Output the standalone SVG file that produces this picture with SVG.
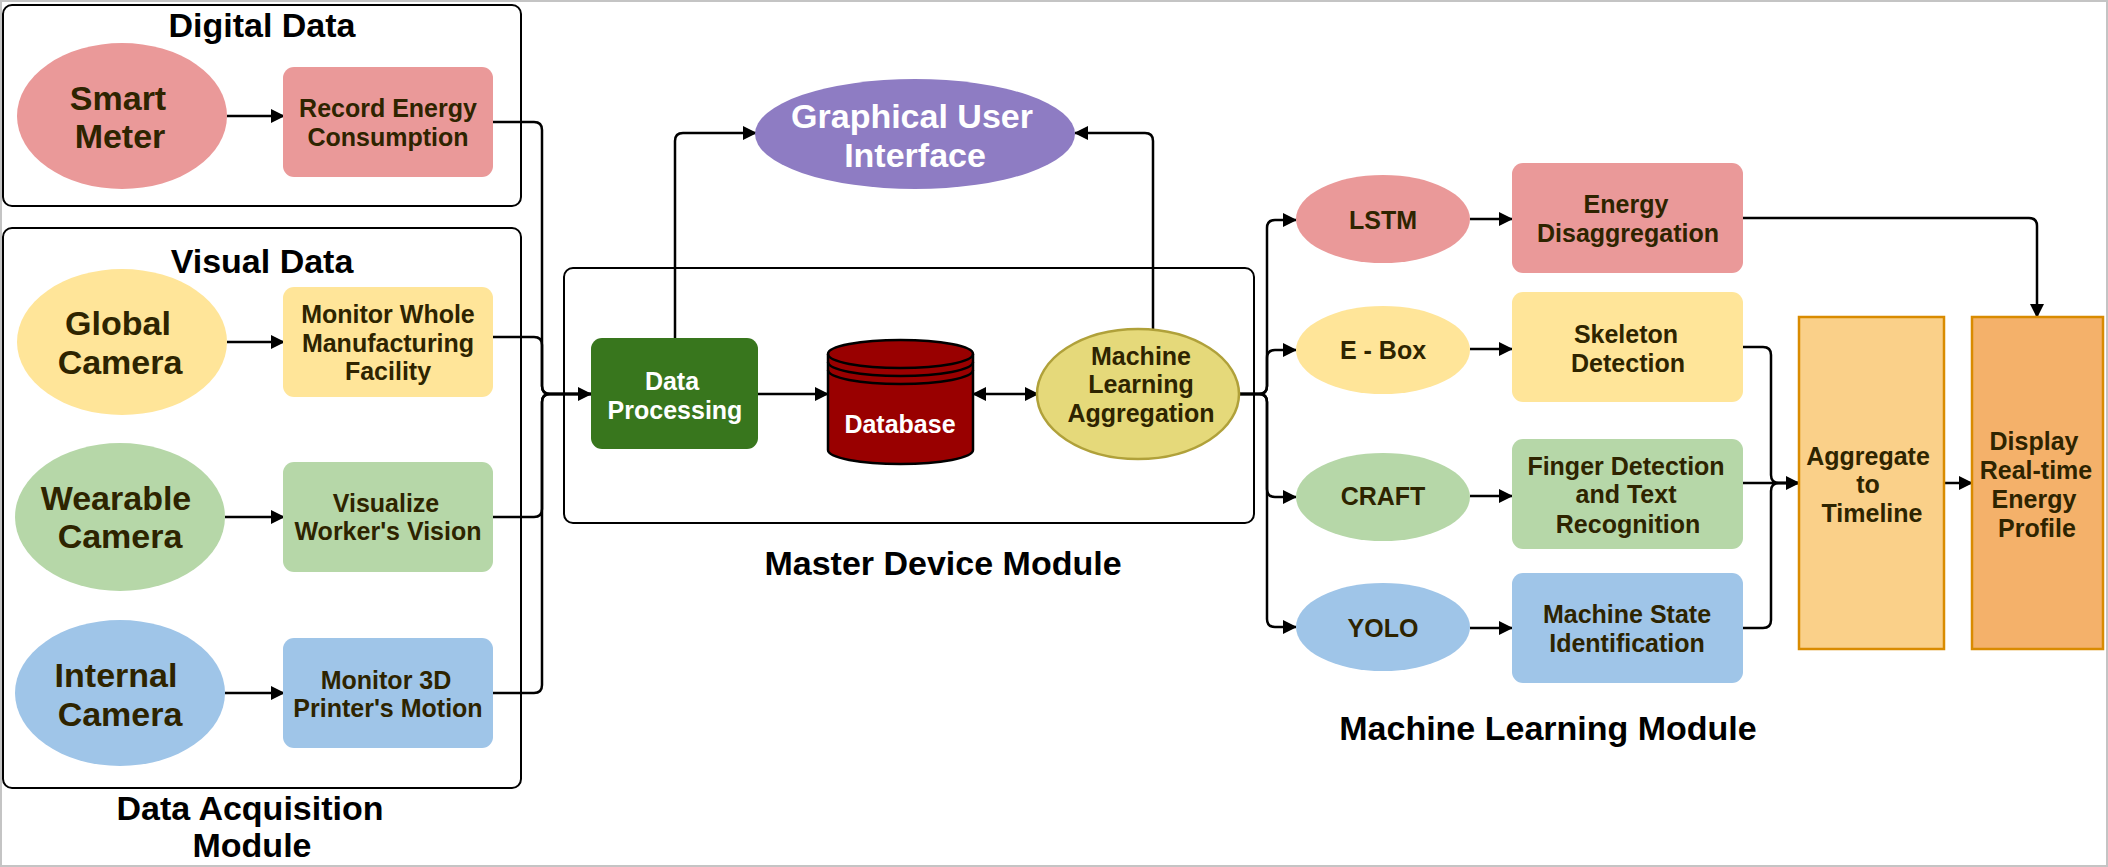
<svg xmlns="http://www.w3.org/2000/svg" width="2108" height="867" viewBox="0 0 2108 867">
<style>
text{font-family:"Liberation Sans",Arial,sans-serif;font-weight:bold;text-anchor:middle}
.t{font-size:34px;fill:#000}
.e{font-size:34px;fill:#2e2400}
.r{font-size:25px;fill:#2e2400}
.w{font-size:25px;fill:#fff}
.g{font-size:34px;fill:#fff}
.grp{fill:none;stroke:#000;stroke-width:2}
.c{fill:none;stroke:#000;stroke-width:2.5}
.pink{fill:#EA9999}.yel{fill:#FFE599}.grn{fill:#B6D7A8}.blu{fill:#9FC5E8}
</style>
<defs>
<marker id="a" viewBox="0 0 14 14" refX="13" refY="7" markerWidth="14" markerHeight="14" markerUnits="userSpaceOnUse" orient="auto-start-reverse">
<path d="M0,0 L14,7 L0,14 Z" fill="#000"/>
</marker>
</defs>
<rect x="1" y="1" width="2106" height="865" fill="#fff" stroke="#c4c4c4" stroke-width="2"/>

<g id="group-digital">
<rect class="grp" x="3" y="5" width="518" height="201" rx="9"/>
<text class="t" x="262" y="37">Digital Data</text>
</g>
<g id="group-visual">
<rect class="grp" x="3" y="228" width="518" height="560" rx="9"/>
<text class="t" x="262" y="273">Visual Data</text>
</g>
<g id="label-acq">
<text class="t" x="250" y="820">Data Acquisition</text>
<text class="t" x="252" y="857">Module</text>
</g>
<g id="group-master">
<rect class="grp" x="564" y="268" width="690" height="255" rx="9"/>
<text class="t" x="943" y="575">Master Device Module</text>
</g>
<g id="label-ml">
<text class="t" x="1548" y="740">Machine Learning Module</text>
</g>

<g id="connectors">
<path class="c" d="M227,116 H284" marker-end="url(#a)"/>
<path class="c" d="M227,342 H284" marker-end="url(#a)"/>
<path class="c" d="M225,517 H284" marker-end="url(#a)"/>
<path class="c" d="M225,693 H284" marker-end="url(#a)"/>
<path class="c" d="M493,122 H534 Q542,122 542,130 V386 Q542,394 550,394 H591" marker-end="url(#a)"/>
<path class="c" d="M493,337 H534 Q542,337 542,345 V386 Q542,394 550,394 H591"/>
<path class="c" d="M493,517 H534 Q542,517 542,509 V402 Q542,394 550,394 H591"/>
<path class="c" d="M493,693 H534 Q542,693 542,685 V402 Q542,394 550,394 H591"/>
<path class="c" d="M758,394 H828" marker-end="url(#a)"/>
<path class="c" d="M973,394 H1038" marker-start="url(#a)" marker-end="url(#a)"/>
<path class="c" d="M675,338 V141 Q675,133 683,133 H756" marker-end="url(#a)"/>
<path class="c" d="M1153,329 V141 Q1153,133 1145,133 H1075" marker-end="url(#a)"/>
<path class="c" d="M1239,394 H1259 Q1267,394 1267,386 V228 Q1267,220 1275,220 H1296" marker-end="url(#a)"/>
<path class="c" d="M1239,394 H1259 Q1267,394 1267,386 V358 Q1267,350 1275,350 H1296" marker-end="url(#a)"/>
<path class="c" d="M1239,394 H1259 Q1267,394 1267,402 V489 Q1267,497 1275,497 H1296" marker-end="url(#a)"/>
<path class="c" d="M1239,394 H1259 Q1267,394 1267,402 V619 Q1267,627 1275,627 H1296" marker-end="url(#a)"/>
<path class="c" d="M1470,219 H1512" marker-end="url(#a)"/>
<path class="c" d="M1470,349 H1512" marker-end="url(#a)"/>
<path class="c" d="M1470,496 H1512" marker-end="url(#a)"/>
<path class="c" d="M1470,628 H1512" marker-end="url(#a)"/>
<path class="c" d="M1743,218 H2029 Q2037,218 2037,226 V317" marker-end="url(#a)"/>
<path class="c" d="M1743,347 H1763 Q1771,347 1771,355 V475 Q1771,483 1779,483 H1799" marker-end="url(#a)"/>
<path class="c" d="M1743,483 H1799"/>
<path class="c" d="M1743,628 H1763 Q1771,628 1771,620 V491 Q1771,483 1779,483 H1799"/>
<path class="c" d="M1944,483 H1972" marker-end="url(#a)"/>
</g>

<g id="smart-meter">
<ellipse class="pink" cx="122" cy="116" rx="105" ry="73"/>
<text class="e" x="118" y="110">Smart</text>
<text class="e" x="120" y="148">Meter</text>
</g>
<g id="record-energy">
<rect class="pink" x="283" y="67" width="210" height="110" rx="11"/>
<text class="r" x="388" y="117">Record Energy</text>
<text class="r" x="388" y="146">Consumption</text>
</g>
<g id="global-camera">
<ellipse class="yel" cx="122" cy="342" rx="105" ry="73"/>
<text class="e" x="118" y="335">Global</text>
<text class="e" x="120" y="374">Camera</text>
</g>
<g id="monitor-whole">
<rect class="yel" x="283" y="287" width="210" height="110" rx="11"/>
<text class="r" x="388" y="323">Monitor Whole</text>
<text class="r" x="388" y="352">Manufacturing</text>
<text class="r" x="388" y="380">Facility</text>
</g>
<g id="wearable-camera">
<ellipse class="grn" cx="120" cy="517" rx="105" ry="74"/>
<text class="e" x="116" y="510">Wearable</text>
<text class="e" x="120" y="548">Camera</text>
</g>
<g id="visualize">
<rect class="grn" x="283" y="462" width="210" height="110" rx="11"/>
<text class="r" x="386" y="512">Visualize</text>
<text class="r" x="388" y="540">Worker's Vision</text>
</g>
<g id="internal-camera">
<ellipse class="blu" cx="120" cy="693" rx="105" ry="73"/>
<text class="e" x="116" y="687">Internal</text>
<text class="e" x="120" y="726">Camera</text>
</g>
<g id="monitor-3d">
<rect class="blu" x="283" y="638" width="210" height="110" rx="11"/>
<text class="r" x="386" y="689">Monitor 3D</text>
<text class="r" x="388" y="717">Printer's Motion</text>
</g>

<g id="gui">
<ellipse cx="915" cy="134" rx="160" ry="55" fill="#8E7CC3"/>
<text class="g" x="912" y="128">Graphical User</text>
<text class="g" x="915" y="167">Interface</text>
</g>
<g id="data-processing">
<rect x="591" y="338" width="167" height="111" rx="11" fill="#38761D"/>
<text class="w" x="672" y="390">Data</text>
<text class="w" x="675" y="419">Processing</text>
</g>
<g id="database">
<path d="M828,354 A72.5,14 0 0 1 973,354 V450 A72.5,14 0 0 1 828,450 Z" fill="#990000" stroke="#000" stroke-width="2.5"/>
<path d="M828,354 A72.5,14 0 0 0 973,354 M828,362 A72.5,14 0 0 0 973,362 M828,370 A72.5,14 0 0 0 973,370" fill="none" stroke="#000" stroke-width="2.5"/>
<text class="w" x="900" y="433">Database</text>
</g>
<g id="ml-aggregation">
<ellipse cx="1138" cy="394" rx="101" ry="65" fill="#E5D97A" stroke="#B0A13A" stroke-width="2.5"/>
<text class="r" x="1141" y="365">Machine</text>
<text class="r" x="1141" y="393">Learning</text>
<text class="r" x="1141" y="422">Aggregation</text>
</g>

<g id="lstm">
<ellipse class="pink" cx="1383" cy="219" rx="87" ry="44"/>
<text class="r" x="1383" y="229">LSTM</text>
</g>
<g id="ebox">
<ellipse class="yel" cx="1383" cy="350" rx="87" ry="44"/>
<text class="r" x="1383" y="359">E - Box</text>
</g>
<g id="craft">
<ellipse class="grn" cx="1383" cy="497" rx="87" ry="44"/>
<text class="r" x="1383" y="505">CRAFT</text>
</g>
<g id="yolo">
<ellipse class="blu" cx="1383" cy="627" rx="87" ry="44"/>
<text class="r" x="1383" y="637">YOLO</text>
</g>
<g id="energy-disagg">
<rect class="pink" x="1512" y="163" width="231" height="110" rx="11"/>
<text class="r" x="1626" y="213">Energy</text>
<text class="r" x="1628" y="242">Disaggregation</text>
</g>
<g id="skeleton">
<rect class="yel" x="1512" y="292" width="231" height="110" rx="11"/>
<text class="r" x="1626" y="343">Skeleton</text>
<text class="r" x="1628" y="372">Detection</text>
</g>
<g id="finger">
<rect class="grn" x="1512" y="439" width="231" height="110" rx="11"/>
<text class="r" x="1626" y="475">Finger Detection</text>
<text class="r" x="1626" y="503">and Text</text>
<text class="r" x="1628" y="533">Recognition</text>
</g>
<g id="machine-state">
<rect class="blu" x="1512" y="573" width="231" height="110" rx="11"/>
<text class="r" x="1627" y="623">Machine State</text>
<text class="r" x="1627" y="652">Identification</text>
</g>
<g id="aggregate">
<rect x="1799" y="317" width="145" height="332" fill="#FAD089" stroke="#D98B00" stroke-width="2.5"/>
<text class="r" x="1868" y="465">Aggregate</text>
<text class="r" x="1868" y="493">to</text>
<text class="r" x="1872" y="522">Timeline</text>
</g>
<g id="display">
<rect x="1972" y="317" width="131" height="332" fill="#F4B16A" stroke="#D98B00" stroke-width="2.5"/>
<text class="r" x="2034" y="450">Display</text>
<text class="r" x="2036" y="479">Real-time</text>
<text class="r" x="2034" y="508">Energy</text>
<text class="r" x="2037" y="537">Profile</text>
</g>
</svg>
